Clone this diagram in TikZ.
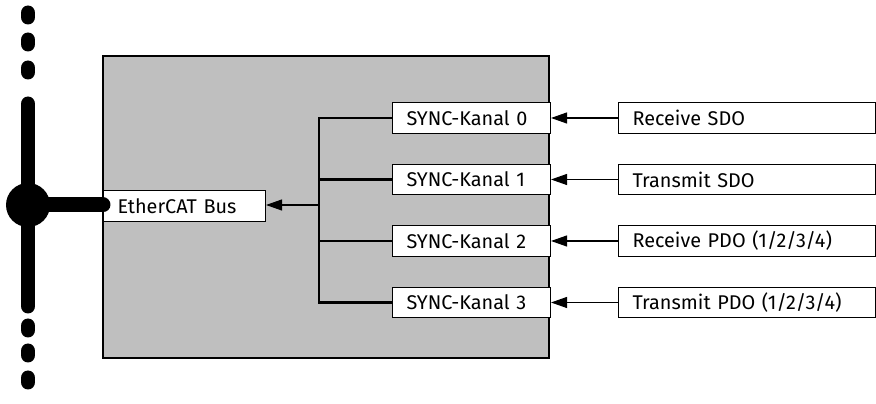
\documentclass[tikz,border=0pt]{standalone}
\usepackage{fontspec}
\setmainfont{Fira Sans}
\usetikzlibrary{arrows.meta}

\tikzset{
  kasten/.style={draw,fill=white,line width=0.6pt,anchor=west,
    inner xsep=0.28cm,inner ysep=0pt,minimum height=0.61cm,
    text width=#1,align=left,font=\fontsize{11.3}{13}\selectfont},
  pfeil/.style={line width=0.6pt,-{Triangle[length=0.32cm,width=0.22cm]}},
  stamm/.style={line width=1.3pt},
  bus/.style={line width=0.3cm,line cap=round}
}

\begin{document}
\begin{tikzpicture}[x=0.02cm,y=-0.02cm]
\useasboundingbox (0,0) rectangle (876,404);

% Geraet
\draw[fill=black!25,line width=0.6pt] (103,56) rectangle (549,358);

\node[kasten=2.68cm] (ecat) at (103,206) {EtherCAT Bus};

\foreach \i/\t in {0/Receive SDO,1/Transmit SDO,2/{Receive PDO (1/2/3/4)},3/{Transmit PDO (1/2/3/4)}}{
  \node[kasten=2.6cm] (sync\i) at (392,118+61.5*\i) {SYNC-Kanal \i};
  \node[kasten=4.58cm] (obj\i) at (618,118+61.5*\i) {\t};
  \draw[pfeil] (obj\i) -- (sync\i);
}

\coordinate (jn) at (319,205);
\draw[stamm] (sync0.west) -| (jn) |- (sync3.west);
\draw[stamm] (sync1.west) -- (sync1.west -| jn);
\draw[stamm] (sync2.west) -- (sync2.west -| jn);
\draw[pfeil] (jn) -- (jn -| ecat.east);

% Bus
\coordinate (hub) at (28,205);
\draw[bus] (28,104) -- (28,306);
\foreach \y in {15,42,70,328,353,380}
  \draw[bus] (28,\y-2) -- (28,\y+2);
\fill (hub) circle (0.44cm);
\draw[bus] (hub) -- (hub -| ecat.west);

\end{tikzpicture}
\end{document}
